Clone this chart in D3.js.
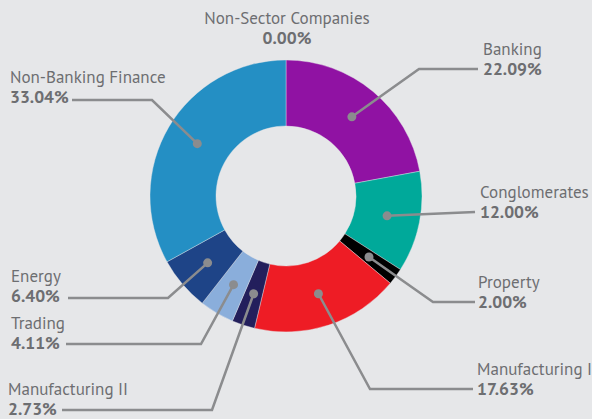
<!DOCTYPE html>
<html>
<head>
<meta charset="utf-8">
<style>
  body { margin: 0; background: #e6e7e9; }
  svg { display: block; font-family: "PT Sans", "Open Sans", sans-serif; }
</style>
</head>
<body>
<svg width="592" height="419"></svg>
<script src="https://d3js.org/d3.v7.min.js"></script>
<script>
// sectors, clockwise from 12 o'clock
var sectors = ["Banking", "Conglomerates", "Property", "Manufacturing I", "Manufacturing II",
               "Trading", "Energy", "Non-Banking Finance", "Non-Sector Companies"];
var shares = [22.09, 12.00, 2.00, 17.63, 2.73, 4.11, 6.40, 33.04, 0.00];
var colors = ["#9012a3", "#00a99a", "#000000", "#ee1c25", "#231f5c",
              "#8aaedb", "#1e4487", "#248fc4", "#999999"];

// label layout: text anchor point, elbow point, end of horizontal line
var labelPos = [
  { x: 483, y: 55, anchor: "start", elbow: [419, 69], end: [478, 69] },
  { x: 480, y: 198, anchor: "start", elbow: null, end: [475, 212] },
  { x: 478, y: 288, anchor: "start", elbow: [433, 302], end: [475, 302] },
  { x: 477, y: 375, anchor: "start", elbow: [370, 389], end: [473, 389] },
  { x: 8, y: 395, anchor: "start", elbow: [212, 410], end: [62, 410] },
  { x: 11, y: 329, anchor: "start", elbow: [201, 344], end: [66, 344] },
  { x: 11, y: 282, anchor: "start", elbow: [168, 298], end: [68, 298] },
  { x: 10, y: 83, anchor: "start", elbow: [152, 100], end: [72, 100] },
  { x: 287, y: 24, anchor: "middle", elbow: null, end: null }
];

var svg = d3.select("svg"),
    cx = 286, cy = 196,
    rOuter = 136, rInner = 70;

var data = sectors.map(function(s, i) { return { name: s, value: shares[i], color: colors[i], pos: labelPos[i] }; });

var pie = d3.pie().sort(null).value(function(d) { return d.value; });
var arc = d3.arc().innerRadius(rInner).outerRadius(rOuter);

var g = svg.append("g").attr("transform", "translate(" + cx + "," + cy + ")");
var arcs = pie(data);

g.selectAll("path")
  .data(arcs.filter(function(d) { return d.data.value > 0; }))
  .enter().append("path")
    .attr("d", arc)
    .attr("fill", function(d) { return d.data.color; })
    .attr("stroke", "#e6e7e9")
    .attr("stroke-width", 0.4);

var lineColor = "#8b8c8e", textColor = "#6d6e71";

arcs.forEach(function(d) {
  var p = d.data.pos;
  if (d.data.value > 0) {
    var c = arc.centroid(d);
    var dot = [cx + c[0], cy + c[1]];
    var pts = [dot];
    if (p.elbow) pts.push(p.elbow);
    pts.push(p.end);
    svg.append("path")
      .attr("d", d3.line()(pts))
      .attr("fill", "none")
      .attr("stroke", lineColor)
      .attr("stroke-width", 2.5);
    svg.append("circle")
      .attr("cx", dot[0]).attr("cy", dot[1]).attr("r", 4.5)
      .attr("fill", lineColor);
  }
  svg.append("text")
    .attr("x", p.x).attr("y", p.y)
    .attr("text-anchor", p.anchor)
    .attr("fill", textColor)
    .attr("font-size", 17)
    .text(d.data.name);
  svg.append("text")
    .attr("x", p.x).attr("y", p.y + 20)
    .attr("text-anchor", p.anchor)
    .attr("fill", textColor)
    .attr("font-size", 17.5)
    .attr("font-weight", "bold")
    .text(d3.format(".2f")(d.data.value) + "%");
});
</script>
</body>
</html>
